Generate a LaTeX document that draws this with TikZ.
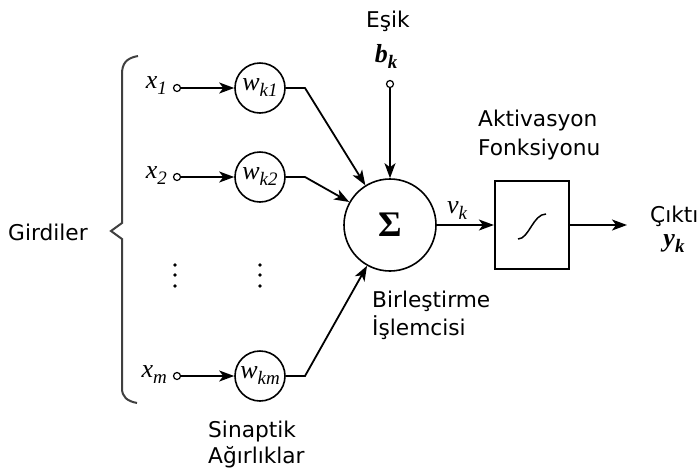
\documentclass[tikz,border=0pt]{standalone}
\usepackage{fontspec}
\setmainfont{DejaVu Sans}
\newfontfamily\tms{Liberation Serif}
\newcommand{\tsub}[2]{#1\raisebox{-6pt}{\fontsize{19}{19}\selectfont #2}}
\usetikzlibrary{arrows.meta}
\tikzset{
  lbl/.style={font=\fontsize{21.7}{26}\selectfont, inner sep=0pt},
  mth/.style={font=\fontsize{26}{30}\selectfont\tms\itshape, inner sep=0pt},
  bmth/.style={font=\fontsize{26}{30}\selectfont\tms\bfseries\itshape, inner sep=0pt},
  term/.style={circle, draw, line width=1.2pt, minimum size=7pt, inner sep=0pt},
  wt/.style={circle, draw, line width=1.6pt, minimum size=50pt, inner sep=0pt, font=\fontsize{26}{30}\selectfont\tms\itshape},
  sumnode/.style={circle, draw, line width=1.6pt, minimum size=92pt, inner sep=0pt, font=\fontsize{36}{40}\selectfont\tms\bfseries},
  actbox/.style={draw, line width=2.2pt, minimum width=74pt, minimum height=88pt, inner sep=0pt},
  conn/.style={line width=1.8pt, -{Stealth[length=15pt,width=11pt,inset=4pt]}},
  brace/.style={line width=2pt, black!75},
  dotm/.style={fill=black},
}
\begin{document}
\begin{tikzpicture}[x=1pt,y=-1pt]
\useasboundingbox (0,0) rectangle (697,475);
% brace and label
\draw[brace] (138,56) .. controls (126,58) and (122,64) .. (122,74) -- (122,223) -- (111,231) -- (122,239) -- (122,388) .. controls (122,397) and (127,401) .. (137,403);
\node[lbl, anchor=base west] (gird) at (8,240) {Girdiler};
% inputs
\node[term] (i1) at (177,88) {};
\node[term] (i2) at (177,177) {};
\node[term] (im) at (177,376) {};
\node[mth, anchor=base east] (lx1) at (167,88) {\tsub{x}{1}};
\node[mth, anchor=base east] (lx2) at (167,178) {\tsub{x}{2}};
\node[mth, anchor=base east] (lxm) at (167,377) {\tsub{x}{m}};
% weights
\node[wt] (w1) at (260,88) {\tsub{w}{k1}};
\node[wt] (w2) at (260,177) {\tsub{w}{k2}};
\node[wt] (wm) at (260,376) {\tsub{w}{km}};
\draw[conn] (i1) -- (w1);
\draw[conn] (i2) -- (w2);
\draw[conn] (im) -- (wm);
% dots
\foreach \yy in {265,275,286} {
  \fill[dotm] (175,\yy) circle (1.8pt);
  \fill[dotm] (260,\yy) circle (1.8pt);
}
% summing junction
\node[sumnode] (sum) at (390,225) {Σ};
\coordinate (b1) at (305,88);
\coordinate (b2) at (305,177);
\coordinate (bm) at (305,376);
\draw[conn] (w1) -- (b1) -- (sum);
\draw[conn] (w2) -- (b2) -- (sum);
\draw[conn] (wm) -- (bm) -- (sum);
% bias
\node[term] (bias) at (390,84) {};
\draw[conn] (bias) -- (sum);
\node[bmth] (bk) at (386,56) {\tsub{b}{k}};
\node[lbl, anchor=base] (esik) at (388,27) {Eşik};
% activation
\node[actbox] (act) at (532,225) {};
\draw[line width=1.5pt] (518,239) .. controls (529,239) and (533,214) .. (546,214);
\draw[conn] (sum) -- (act);
\node[mth] (vk) at (457,211) {\tsub{v}{k}};
\coordinate (out) at (627,225);
\draw[conn] (act) -- (out);
\node[lbl, anchor=base west] (akt) at (478,126) {Aktivasyon};
\node[lbl, anchor=base west] (fonk) at (478,155) {Fonksiyonu};
\node[lbl, anchor=base west] (cikti) at (650,222) {Çıktı};
\node[bmth] (yk) at (674,244) {\tsub{y}{k}};
% other labels
\node[lbl, anchor=base west] (birl) at (372,307) {Birleştirme};
\node[lbl, anchor=base west] (isl) at (372,335) {İşlemcisi};
\node[lbl, anchor=base west] (sin) at (208,437) {Sinaptik};
\node[lbl, anchor=base west] (agir) at (208,463) {Ağırlıklar};
\end{tikzpicture}
\end{document}
